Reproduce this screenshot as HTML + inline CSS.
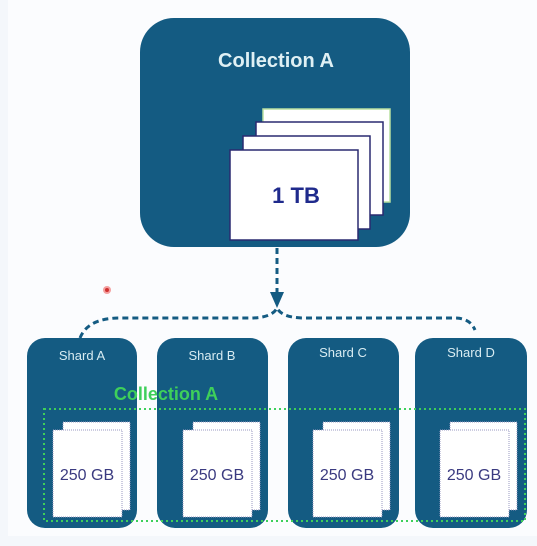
<!DOCTYPE html>
<html><head><style>
body{margin:0;width:537px;height:546px;background:#f4f7fb;overflow:hidden;font-family:"Liberation Sans",sans-serif}
</style></head><body>
<svg width="537" height="546" viewBox="0 0 537 546" xmlns="http://www.w3.org/2000/svg" style="position:absolute;left:0;top:0">
<rect x="8" y="0" width="529" height="536" fill="#fbfcfe"/>
<rect x="140" y="18" width="270" height="229" rx="34" fill="#145b82"/>
<text x="276" y="67" text-anchor="middle" font-family="Liberation Sans" font-weight="bold" font-size="20" fill="#dff0f4">Collection A</text>
<rect x="263" y="109" width="127" height="93" fill="#fff" stroke="#b8e0a0" stroke-width="1.5"/>
<rect x="256" y="122" width="127" height="93" fill="#fff" stroke="#2a2a70" stroke-width="1.5"/>
<rect x="243" y="136" width="127" height="93" fill="#fff" stroke="#2a2a70" stroke-width="1.5"/>
<rect x="230" y="150" width="128" height="90" fill="#fff" stroke="#2a2a70" stroke-width="1.5"/>
<text x="296" y="203" text-anchor="middle" font-family="Liberation Sans" font-weight="bold" font-size="22" fill="#1f2a8c">1 TB</text>
<line x1="277" y1="248" x2="277" y2="292" stroke="#145b82" stroke-width="3" stroke-dasharray="6,4"/>
<polygon points="270,292 284,292 277,308" fill="#145b82"/>
<path d="M80,338 Q88,318 120,318 L250,318 Q272,318 277,308 Q282,318 305,318 L455,318 Q470,318 475,330" fill="none" stroke="#145b82" stroke-width="3" stroke-dasharray="6,4"/>
<g font-family="Liberation Sans" font-size="13" fill="#d8ecf2" text-anchor="middle">
<rect x="27" y="338" width="110" height="190" rx="18" fill="#145b82"/>
<text x="82" y="360">Shard A</text>
<rect x="157" y="338" width="111" height="190" rx="18" fill="#145b82"/>
<text x="212" y="360">Shard B</text>
<rect x="288" y="338" width="111" height="190" rx="18" fill="#145b82"/>
<text x="343" y="357">Shard C</text>
<rect x="415" y="338" width="112" height="190" rx="18" fill="#145b82"/>
<text x="471" y="357">Shard D</text>
</g>
<g fill="#fff" stroke="#9a98c0" stroke-width="1" stroke-dasharray="1,1">
<rect x="63" y="422" width="67" height="88"/><rect x="53" y="430" width="69" height="87"/>
<rect x="193" y="422" width="67" height="88"/><rect x="183" y="430" width="69" height="87"/>
<rect x="323" y="422" width="67" height="88"/><rect x="313" y="430" width="69" height="87"/>
<rect x="450" y="422" width="67" height="88"/><rect x="440" y="430" width="69" height="87"/>
</g>
<g font-family="Liberation Sans" font-size="16" fill="#3a3a80" text-anchor="middle">
<text x="87" y="480">250 GB</text><text x="217" y="480">250 GB</text>
<text x="347" y="480">250 GB</text><text x="474" y="480">250 GB</text>
</g>
<rect x="44" y="409" width="481" height="112" fill="none" stroke="#3ecf5a" stroke-width="2" stroke-dasharray="2,3"/>
<text x="166" y="400" text-anchor="middle" font-family="Liberation Sans" font-weight="bold" font-size="18" fill="#3ecf5a">Collection A</text>
<circle cx="107" cy="290" r="4" fill="#f3a0a0"/><circle cx="107" cy="290" r="2" fill="#d03030"/>
</svg>
</body></html>
